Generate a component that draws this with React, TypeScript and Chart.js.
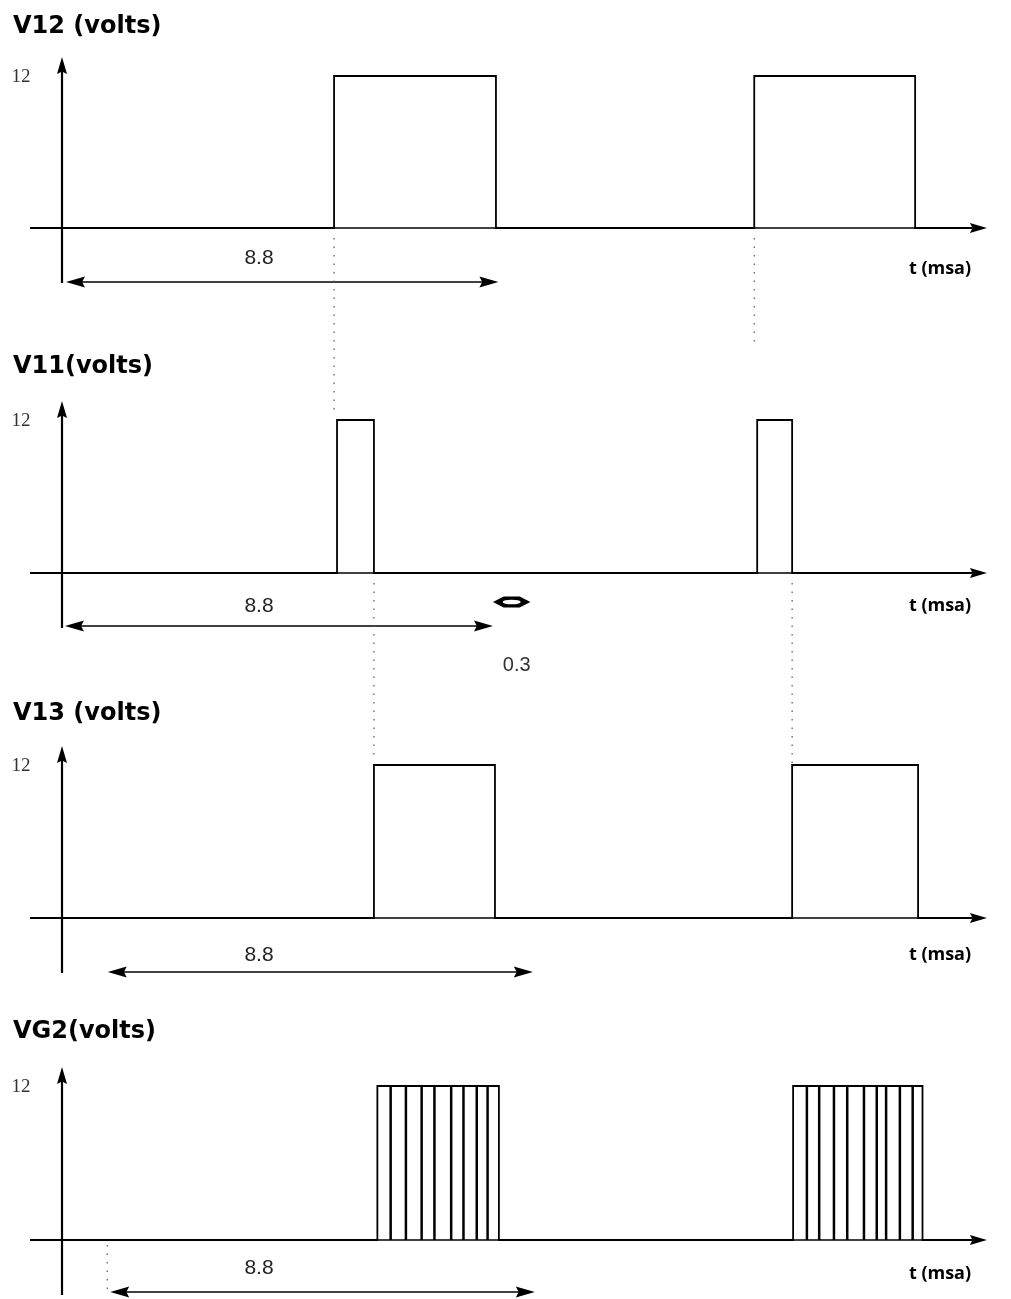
import React, { useEffect, useRef } from "react";
import { Chart, registerables } from "chart.js";

Chart.register(...registerables);

// ---------------- DATA ----------------
const panelTitles = ["V12 (volts)", "V11(volts)", "V13 (volts)", "VG2(volts)"];
const levelLabel = "12";
const highLevel = 12;
const timeAxisLabel = "t (msa)";
const dimensionLabels = ["8.8", "8.8", "8.8", "8.8"];

// pulse edges in ms: [rise, fall]
const v12Pulses = [[5.53, 8.82], [14.07, 17.34]];
const v11Pulses = [[5.59, 6.34], [14.13, 14.84]];
const v13Pulses = [[6.34, 8.80], [14.84, 17.40]];
const vg2Pulses = [[6.41, 8.88], [14.86, 17.49]];
// internal switching edges of the VG2 chopped pulses (ms)
const vg2Gates = [
  6.68, 6.99, 7.31, 7.57, 7.91, 8.16, 8.43, 8.65,
  15.14, 15.39, 15.69, 15.96, 16.30, 16.56, 16.75, 17.03, 17.29,
];
// dimension arrows (ms): [start, end]
const dimensionSpans = [[0.08, 8.87], [0.06, 8.76], [0.93, 9.57], [0.98, 9.61]];
const deadTimeSpan = [8.76, 9.52];
const deadTimeLabel = "0.3";
// dotted guide lines: time, from panel, to panel
const guideTimes = [5.53, 14.07, 6.34, 14.84];
const guideFrom = [0, 0, 1, 1];
const guideTo = [1, 1, 2, 2];
const axisStartMs = -0.65;
const axisEndMs = 18.8;

const allPulses = [v12Pulses, v11Pulses, v13Pulses, vg2Pulses];

// ---------------- LAYOUT ----------------
const W = 1011;
const H = 1299;
const PX_PER_MS = 49.2;
const ORIGIN_PX = 62;
const baselinePx = [228, 573, 918, 1240];
const highPx = [76, 420, 765, 1086];
const titleY = [27, 367, 714, 1032];
const dimY = [282, 626, 972, 1292];
const dimLabelY = [258, 606, 955, 1268];
const tLabelY = [269, 606, 955, 1274];
const guideEndPx = [410, 345, 755, 765];

function waveform(pulses: number[][]) {
  const pts: { x: number; y: number }[] = [{ x: axisStartMs, y: 0 }];
  pulses.forEach(([on, off]) => {
    pts.push({ x: on, y: 0 }, { x: on, y: highLevel }, { x: off, y: highLevel }, { x: off, y: 0 });
  });
  pts.push({ x: axisEndMs - 0.3, y: 0 });
  return pts;
}

function gateLines(times: number[]) {
  const pts: { x: number; y: number | null }[] = [];
  times.forEach((t) => {
    pts.push({ x: t, y: 0 }, { x: t, y: highLevel }, { x: t, y: null });
  });
  return pts;
}

function yRange(i: number) {
  const b = baselinePx[i];
  const p = highPx[i];
  const per = (b - p) / highLevel;
  return { min: -(H - b) / per, max: b / per };
}

function drawHead(ctx: CanvasRenderingContext2D, x: number, y: number, dx: number, dy: number, len: number, half: number) {
  const nx = -dy, ny = dx;
  ctx.beginPath();
  ctx.moveTo(x, y);
  ctx.lineTo(x - dx * len + nx * half, y - dy * len + ny * half);
  ctx.lineTo(x - dx * len * 0.85, y - dy * len * 0.85);
  ctx.lineTo(x - dx * len - nx * half, y - dy * len - ny * half);
  ctx.closePath();
  ctx.fill();
}

const overlay = {
  id: "overlay",
  afterDatasetsDraw(chart: any) {
    const ctx: CanvasRenderingContext2D = chart.ctx;
    const xs = chart.scales.x;
    ctx.save();
    ctx.fillStyle = "#000";
    ctx.strokeStyle = "#000";
    for (let i = 0; i < 4; i++) {
      const ys = chart.scales["y" + i];
      const x0 = xs.getPixelForValue(0);
      const yb = ys.getPixelForValue(0);
      const yh = ys.getPixelForValue(highLevel);

      // time axis
      const xa = xs.getPixelForValue(axisStartMs);
      const xe = xs.getPixelForValue(axisEndMs);
      ctx.fillStyle = "#000";
      ctx.lineWidth = 1.6;
      ctx.setLineDash([]);
      ctx.beginPath();
      ctx.moveTo(xa, yb);
      ctx.lineTo(xe - 8, yb);
      ctx.stroke();
      drawHead(ctx, xe, yb, 1, 0, 17, 5);

      // voltage axis
      const tip = yh - 19;
      ctx.lineWidth = 2.2;
      ctx.beginPath();
      ctx.moveTo(x0, yb + 55);
      ctx.lineTo(x0, tip + 8);
      ctx.stroke();
      drawHead(ctx, x0, tip, 0, -1, 17, 5);

      // dimension arrow
      const d0 = xs.getPixelForValue(dimensionSpans[i][0]);
      const d1 = xs.getPixelForValue(dimensionSpans[i][1]);
      const dy = dimY[i];
      ctx.lineWidth = 1.6;
      ctx.beginPath();
      ctx.moveTo(d0 + 8, dy);
      ctx.lineTo(d1 - 8, dy);
      ctx.stroke();
      drawHead(ctx, d0, dy, -1, 0, 19, 5.5);
      drawHead(ctx, d1, dy, 1, 0, 19, 5.5);

      // texts
      ctx.fillStyle = "#000";
      ctx.font = "bold 24px 'DejaVu Sans'";
      ctx.textAlign = "left";
      ctx.textBaseline = "middle";
      ctx.fillText(panelTitles[i], 13, titleY[i]);

      ctx.fillStyle = "#333";
      ctx.font = "19px 'Liberation Serif'";
      ctx.textAlign = "center";
      ctx.fillText(levelLabel, 21, yh + 1);

      ctx.fillStyle = "#222";
      ctx.font = "21px 'Liberation Sans'";
      ctx.fillText(dimensionLabels[i], 259, dimLabelY[i]);

      ctx.fillStyle = "#000";
      ctx.font = "bold 18px 'Open Sans'";
      ctx.fillText(timeAxisLabel, 940, tLabelY[i]);
    }

    // dotted guides
    ctx.strokeStyle = "#555";
    ctx.lineWidth = 1.2;
    ctx.setLineDash([1.5, 7]);
    guideTimes.forEach((t, k) => {
      const gx = xs.getPixelForValue(t);
      const yFrom = chart.scales["y" + guideFrom[k]].getPixelForValue(0) + 10;
      ctx.beginPath();
      ctx.moveTo(gx, yFrom);
      ctx.lineTo(gx, guideEndPx[k]);
      ctx.stroke();
    });
    // short dotted line at VG2 dimension start
    {
      const gx = xs.getPixelForValue(dimensionSpans[3][0]) - 3;
      const yb = chart.scales.y3.getPixelForValue(0);
      ctx.beginPath();
      ctx.moveTo(gx, yb + 5);
      ctx.lineTo(gx, dimY[3]);
      ctx.stroke();
    }
    ctx.setLineDash([]);

    // dead-time marker (0.3)
    {
      const ys = chart.scales.y1;
      const a = xs.getPixelForValue(deadTimeSpan[0]);
      const b = xs.getPixelForValue(deadTimeSpan[1]);
      const cy = ys.getPixelForValue(0) + 29;
      const cx = (a + b) / 2;
      ctx.fillStyle = "#000";
      ctx.beginPath();
      ctx.moveTo(a, cy);
      ctx.lineTo(cx - 8, cy - 5.5);
      ctx.lineTo(cx + 8, cy - 5.5);
      ctx.lineTo(b, cy);
      ctx.lineTo(cx + 8, cy + 5.5);
      ctx.lineTo(cx - 8, cy + 5.5);
      ctx.closePath();
      ctx.fill();
      ctx.fillStyle = "#fff";
      ctx.beginPath();
      ctx.ellipse(cx, cy, 9, 2.3, 0, 0, Math.PI * 2);
      ctx.fill();
      ctx.fillStyle = "#333";
      ctx.font = "20px 'Liberation Sans'";
      ctx.textAlign = "center";
      ctx.textBaseline = "middle";
      ctx.fillText(deadTimeLabel, cx + 5, cy + 63);
    }
    ctx.restore();
  },
};

export default function App() {
  const ref = useRef<HTMLCanvasElement | null>(null);
  useEffect(() => {
    if (!ref.current) return;
    const scales: any = {
      x: {
        type: "linear",
        min: -ORIGIN_PX / PX_PER_MS,
        max: (W - ORIGIN_PX) / PX_PER_MS,
        display: false,
      },
    };
    for (let i = 0; i < 4; i++) {
      const r = yRange(i);
      scales["y" + i] = { type: "linear", min: r.min, max: r.max, display: false };
    }
    const datasets: any[] = allPulses.map((p, i) => ({
      label: panelTitles[i],
      data: waveform(p),
      yAxisID: "y" + i,
      borderColor: "#000",
      borderWidth: 1.8,
      pointRadius: 0,
      tension: 0,
      fill: false,
    }));
    datasets.push({
      label: "VG2 gates",
      data: gateLines(vg2Gates),
      yAxisID: "y3",
      borderColor: "#000",
      borderWidth: 2.5,
      pointRadius: 0,
      tension: 0,
      fill: false,
      spanGaps: false,
    });
    const chart = new Chart(ref.current, {
      type: "line",
      data: { datasets },
      options: {
        animation: false,
        responsive: false,
        devicePixelRatio: 1,
        layout: { padding: 0 },
        plugins: { legend: { display: false }, tooltip: { enabled: false }, title: { display: false } },
        scales,
        events: [],
      },
      plugins: [overlay],
    } as any);
    return () => chart.destroy();
  }, []);
  return (
    <div style={{ position: "absolute", left: 0, top: 0, width: W, height: H, background: "#fff" }}>
      <canvas ref={ref} width={W} height={H} style={{ display: "block" }} />
    </div>
  );
}
